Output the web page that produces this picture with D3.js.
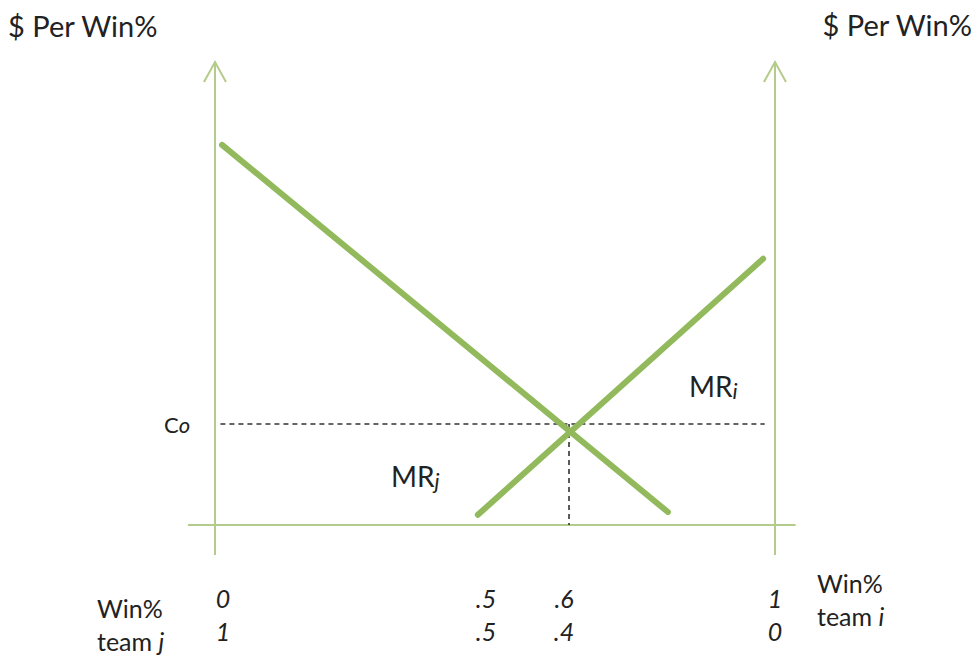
<!DOCTYPE html>
<html>
<head>
<meta charset="utf-8">
<script src="https://cdn.jsdelivr.net/npm/d3@7.9.0/dist/d3.min.js"></script>
<style>
    html, body { margin: 0; padding: 0; background: #fff; }
    svg { display: block; font-family: Lato, 'Open Sans', sans-serif; }
</style>
</head>
<body>
<div id="chart"></div>
<script>
// win% of team i along the x axis, $ per win% (arbitrary units) up the y axis
const winTicks = [0, 0.5, 0.6, 1];
const teamILabels = ['0', '.5', '.6', '1'];
const teamJLabels = ['1', '.5', '.4', '0'];

const mrJ = [{ w: 0.013, v: 0.821 }, { w: 0.792, v: 0.028 }];
const mrI = [{ w: 0.485, v: 0.022 }, { w: 0.977, v: 0.575 }];

const c0 = 0.218;
const eqWin = 0.6;

const width = 978;
const height = 657;

const svg = d3.select('#chart')
    .append('svg')
    .attr('width', width)
    .attr('height', height);

// sketch is not drawn to scale, so the x scale is piecewise through the ticks
const xScale = d3.scaleLinear()
    .domain(winTicks)
    .range([215, 486, 569, 775]);

const yScale = d3.scaleLinear()
    .domain([0, 1])
    .range([525, 62]);

const axisColor = '#b3cc8c';
const lineColor = '#92ba5c';

const line = d3.line()
    .x((d) => xScale(d.w))
    .y((d) => yScale(d.v));

// vertical axes with open arrowheads
[0, 1].forEach((w) => {
    const x = xScale(w);
    svg.append('line')
        .attr('x1', x).attr('x2', x)
        .attr('y1', yScale(-0.065)).attr('y2', yScale(1))
        .attr('stroke', axisColor)
        .attr('stroke-width', 2);
    svg.append('path')
        .attr('d', `M${x - 11},${yScale(1) + 20}L${x},${yScale(1)}L${x + 11},${yScale(1) + 20}`)
        .attr('fill', 'none')
        .attr('stroke', axisColor)
        .attr('stroke-width', 2);
});

// horizontal axis
svg.append('line')
    .attr('x1', xScale(-0.05)).attr('x2', xScale(1.04))
    .attr('y1', yScale(0)).attr('y2', yScale(0))
    .attr('stroke', axisColor)
    .attr('stroke-width', 2);

// dashed guides at the equilibrium
svg.append('line')
    .attr('x1', xScale(0.01)).attr('x2', xScale(0.98))
    .attr('y1', yScale(c0)).attr('y2', yScale(c0))
    .attr('stroke', '#333')
    .attr('stroke-width', 1.6)
    .attr('stroke-dasharray', '5,4');

svg.append('line')
    .attr('x1', xScale(eqWin)).attr('x2', xScale(eqWin))
    .attr('y1', yScale(c0)).attr('y2', yScale(0))
    .attr('stroke', '#333')
    .attr('stroke-width', 1.6)
    .attr('stroke-dasharray', '5,4');

// MR curves
[mrJ, mrI].forEach((d) => {
    svg.append('path')
        .datum(d)
        .attr('d', line)
        .attr('fill', 'none')
        .attr('stroke', lineColor)
        .attr('stroke-width', 6)
        .attr('stroke-linecap', 'round');
});

const textColor = '#222';

// titles
svg.append('text')
    .attr('x', 8).attr('y', 37)
    .attr('font-size', 29)
    .attr('fill', textColor)
    .text('$ Per Win%');

svg.append('text')
    .attr('x', 972).attr('y', 36)
    .attr('text-anchor', 'end')
    .attr('font-size', 29)
    .attr('fill', textColor)
    .text('$ Per Win%');

// c0 label
const cLabel = svg.append('text')
    .attr('x', xScale(0) - 51).attr('y', yScale(c0) + 9)
    .attr('font-size', 22)
    .attr('fill', textColor);
cLabel.append('tspan').text('C');
cLabel.append('tspan').attr('font-style', 'italic').text('o');

// MR labels
function mrLabel(x, y, sub) {
    const t = svg.append('text')
        .attr('x', x).attr('y', y)
        .attr('font-size', 28)
        .attr('fill', textColor);
    t.append('tspan').text('MR');
    t.append('tspan')
        .attr('font-style', 'italic')
        .attr('font-size', 22)
        .attr('dy', 2)
        .text(sub);
}
mrLabel(391, 487, 'j');
mrLabel(689, 397, 'i');

// win% tick labels, team i on top, team j below
const ticks = svg.append('g')
    .attr('font-size', 25)
    .attr('font-style', 'italic')
    .attr('fill', textColor)
    .attr('text-anchor', 'middle');

ticks.selectAll('text.ti')
    .data(winTicks)
    .join('text')
    .attr('class', 'ti')
    .attr('x', (d) => xScale(d) + (d === 0 ? 8 : 0) - (d === eqWin ? 5 : 0))
    .attr('y', 608)
    .text((d, i) => teamILabels[i]);

ticks.selectAll('text.tj')
    .data(winTicks)
    .join('text')
    .attr('class', 'tj')
    .attr('x', (d) => xScale(d) + (d === 0 ? 8 : 0) - (d === eqWin ? 5 : 0))
    .attr('y', 641)
    .text((d, i) => teamJLabels[i]);

// axis captions
function caption(x, y, team) {
    const g = svg.append('text')
        .attr('x', x).attr('y', y)
        .attr('font-size', 25)
        .attr('fill', textColor);
    g.append('tspan').attr('x', x).text('Win%');
    g.append('tspan').attr('x', x).attr('dy', 33).text('team ');
    g.append('tspan').attr('font-style', 'italic').text(team);
}
caption(97, 618, 'j');
caption(817, 593, 'i');
</script>
</body>
</html>
